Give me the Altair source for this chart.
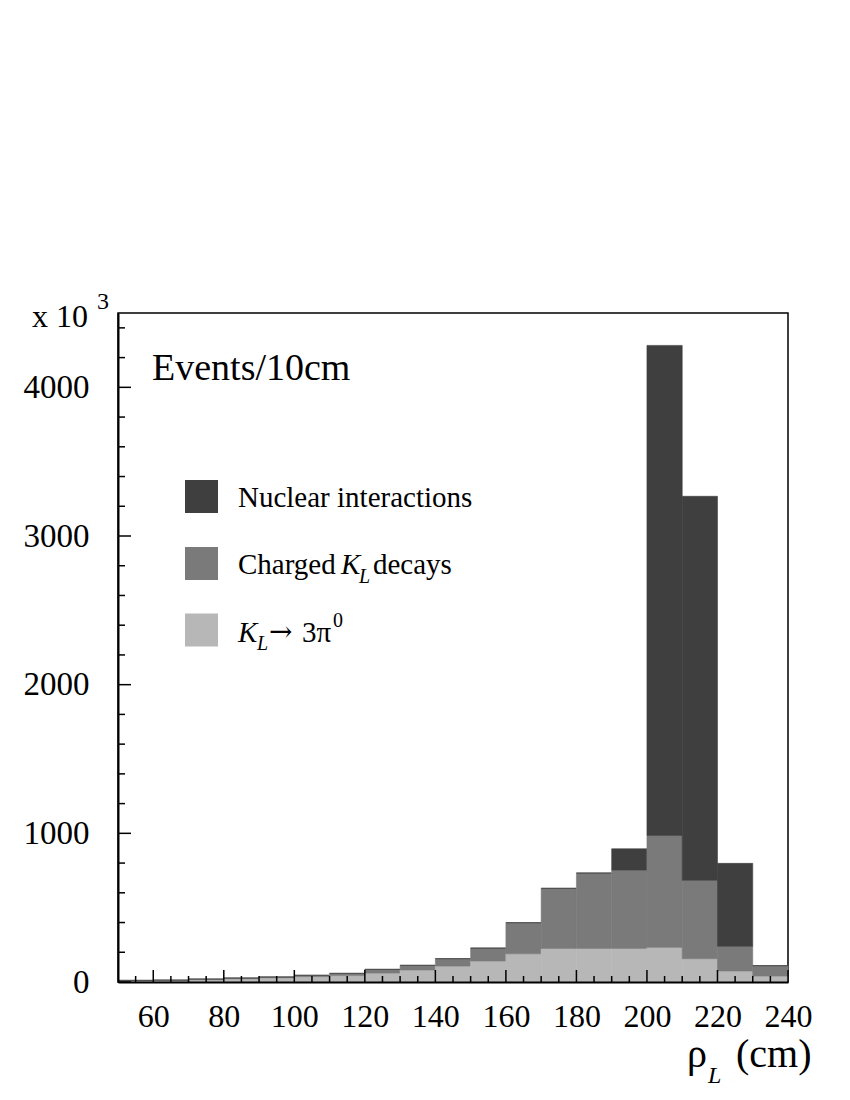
import altair as alt
import pandas as pd

FONT = "Liberation Serif"

# ---- data (units of 10^3 events per 10 cm bin) ----
bin_lo = [50, 60, 70, 80, 90, 100, 110, 120, 130, 140, 150, 160, 170, 180, 190, 200, 210, 220, 230]
bin_hi = [60, 70, 80, 90, 100, 110, 120, 130, 140, 150, 160, 170, 180, 190, 200, 210, 220, 230, 240]
k3pi = [8, 10, 16, 22, 29, 36, 43, 60, 81, 107, 141, 190, 226, 226, 226, 233, 157, 74, 40]
charged = [3, 3, 4, 5, 5, 9, 15, 25, 31, 50, 87, 209, 404, 507, 527, 753, 527, 166, 70]
nuclear = [0, 0, 0, 0, 0, 0, 0, 0, 0, 0, 0, 0, 0, 0, 143, 3296, 2583, 558, 0]

components = ["K3pi", "Charged", "Nuclear"]
colors = ["#b7b7b7", "#7a7a7a", "#3f3f3f"]

x_label_values = [60, 80, 100, 120, 140, 160, 180, 200, 220, 240]
y_label_values = [0, 1000, 2000, 3000, 4000]
x_major_ticks = [60, 80, 100, 120, 140, 160, 180, 200, 220, 240]
x_minor_ticks = [55, 65, 70, 75, 85, 90, 95, 105, 110, 115, 125, 130, 135, 145, 150, 155,
                 165, 170, 175, 185, 190, 195, 205, 210, 215, 225, 230, 235]
y_major_ticks = [0, 1000, 2000, 3000, 4000]
y_minor_ticks = [200, 400, 600, 800, 1200, 1400, 1600, 1800, 2200, 2400, 2600, 2800,
                 3200, 3400, 3600, 3800, 4200, 4400]

W, H = 670, 669

# ---- build stacked table ----
rows = []
for i in range(len(bin_lo)):
    b = 0
    for comp, vals in zip(components, [k3pi, charged, nuclear]):
        v = vals[i]
        rows.append({"lo": bin_lo[i], "hi": bin_hi[i], "comp": comp, "bottom": b, "top": b + v})
        b += v
df = pd.DataFrame(rows)

xs = alt.Scale(domain=[50, 240], nice=False, zero=False)
ys = alt.Scale(domain=[0, 4500], nice=False)

xaxis = alt.Axis(values=x_label_values, ticks=False, labelFont=FONT, labelFontSize=32,
                 labelColor="black", labelPadding=19, domainColor="black", domainWidth=2,
                 grid=False, title=None, labelFlush=False, labelOverlap=False, zindex=1,
                 format="d")
yaxis = alt.Axis(values=y_label_values, ticks=False, labelFont=FONT, labelFontSize=33,
                 labelColor="black", labelPadding=29, domainColor="black", domainWidth=2,
                 grid=False, title=None, labelFlush=False, labelOverlap=False, zindex=1,
                 format="d")

bars = alt.Chart(df).mark_bar(strokeWidth=0.6).encode(
    x=alt.X("lo:Q", scale=xs, axis=xaxis),
    x2="hi:Q",
    y=alt.Y("top:Q", scale=ys, axis=yaxis),
    y2="bottom:Q",
    color=alt.Color("comp:N", scale=alt.Scale(domain=components, range=colors), legend=None),
    stroke=alt.Stroke("comp:N", scale=alt.Scale(domain=components, range=colors), legend=None),
)

def yticks(vals, length):
    return alt.Chart(pd.DataFrame({"v": vals})).mark_rule(color="black", strokeWidth=1.5).encode(
        y=alt.Y("v:Q", scale=ys, axis=yaxis), x=alt.value(0), x2=alt.value(length))

def xticks(vals, length):
    return alt.Chart(pd.DataFrame({"v": vals})).mark_rule(color="black", strokeWidth=1.5).encode(
        x=alt.X("v:Q", scale=xs, axis=xaxis), y=alt.value(H), y2=alt.value(H - length))

def txt(t, x, y, size, italic=False, baseline="alphabetic", align="left", font=FONT):
    kw = dict(align=align, baseline=baseline, font=font, fontSize=size, color="black")
    if italic:
        kw["fontStyle"] = "italic"
    return alt.Chart(pd.DataFrame({"t": [t]})).mark_text(**kw).encode(
        x=alt.value(x), y=alt.value(y), text="t:N")

# legend squares
leg = pd.DataFrame({"fill": colors[::-1], "yc": [183.5, 250.5, 317]})
squares = alt.Chart(leg).mark_square(size=1089, opacity=1).encode(
    x=alt.value(83.5), y=alt.Y("yc:Q", scale=None), color=alt.Color("fill:N", scale=None))

texts = [
    txt("Events/10cm", 34, 67, 38),
    txt("x 10", -86, 14, 32),
    txt("3", -21, -4, 24),
    # legend
    txt("Nuclear interactions", 120, 194, 29),
    txt("Charged", 120, 261, 29),
    txt("K", 223, 261, 29, italic=True),
    txt("L", 241, 270, 20, italic=True),
    txt("decays", 255, 261, 29),
    txt("K", 120, 329, 29, italic=True),
    txt("L", 139, 337, 20, italic=True),
    txt("\u2192", 151, 328, 28, font="DejaVu Serif"),
    txt("3\u03c0", 184, 329, 29),
    txt("0", 215, 314, 20),
    # x title
    txt("\u03c1", 569, 754, 40),
    txt("L", 590, 770, 24, italic=True),
    txt("(cm)", 618, 754, 40),
]

chart = alt.layer(
    bars,
    yticks(y_major_ticks, 13), yticks(y_minor_ticks, 7),
    xticks(x_major_ticks, 12), xticks(x_minor_ticks, 6),
    squares,
    *texts,
).properties(
    width=W, height=H,
    autosize=alt.AutoSizeParams(type="none"),
    padding={"left": 110, "top": 305, "right": 40, "bottom": 110},
).configure(background="white").configure_view(stroke="black", strokeWidth=1.5)

chart.save("out.html", embed_options={"renderer": "svg", "actions": False})
